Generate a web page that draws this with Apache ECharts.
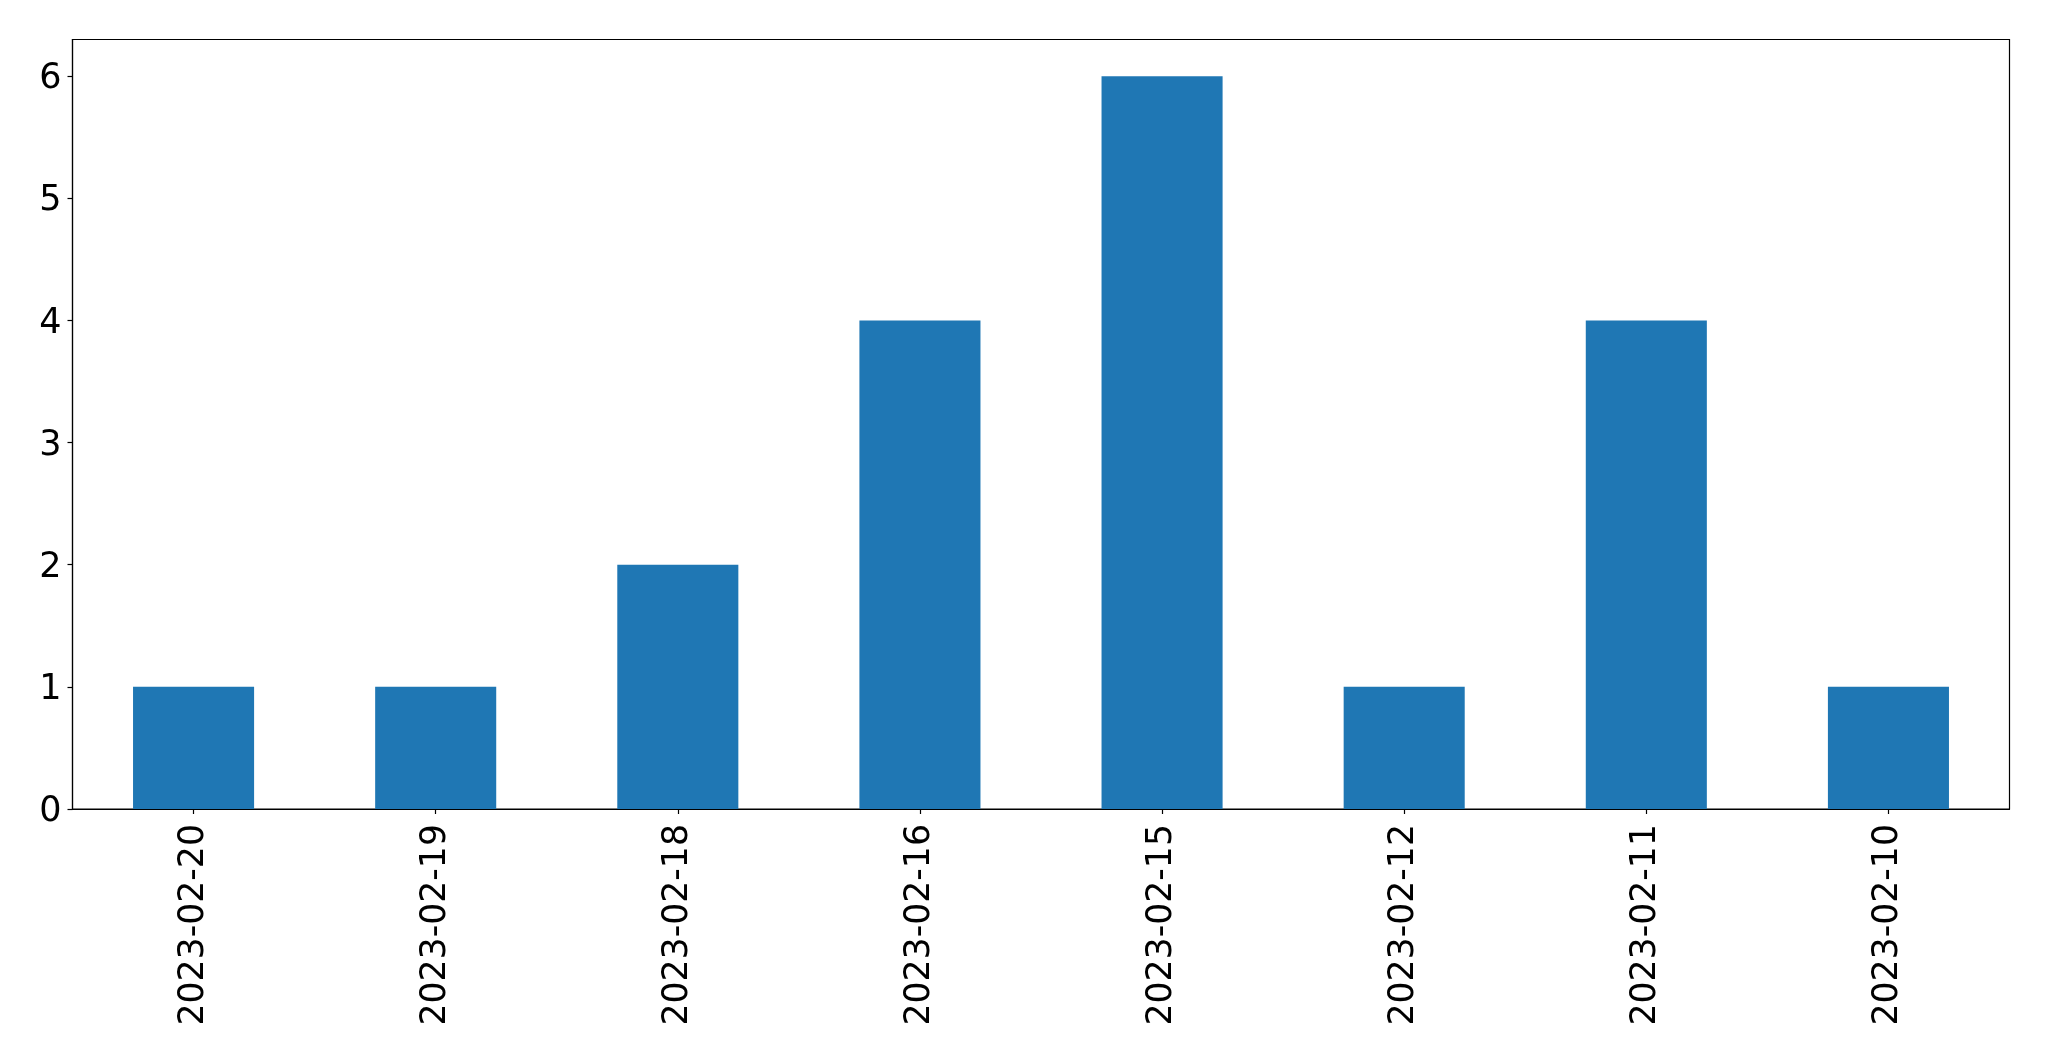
<!DOCTYPE html>
<html>
<head>
<meta charset="utf-8">
<script src="https://cdn.jsdelivr.net/npm/echarts@6/dist/echarts.min.js"></script>
<style>html,body{margin:0;padding:0;background:#fff}#c{width:2049px;height:1061px}</style>
</head>
<body>
<div id="c"></div>
<script>
const categories = ['2023-02-20','2023-02-19','2023-02-18','2023-02-16','2023-02-15','2023-02-12','2023-02-11','2023-02-10'];
const values = [1, 1, 2, 4, 6, 1, 4, 1];
const yTicks = [0, 1, 2, 3, 4, 5, 6];

const chart = echarts.init(document.getElementById('c'), null, {renderer: 'canvas'});
const font = 'DejaVu Sans';
chart.setOption({
  animation: false,
  grid: {left: 72.5, right: 39.5, top: 39.5, bottom: 252, show: true, borderColor: '#000', borderWidth: 1.2, backgroundColor: 'transparent'},
  xAxis: {
    type: 'category',
    data: categories,
    axisLine: {show: true, lineStyle: {color: '#000', width: 1.2}},
    axisTick: {show: true, alignWithLabel: true, length: 5, lineStyle: {color: '#000', width: 1.2}},
    axisLabel: {rotate: 90, margin: 15, fontFamily: font, fontSize: 34.7, color: '#000', interval: 0},
    splitLine: {show: false}
  },
  yAxis: {
    type: 'value',
    min: 0,
    max: 6.3,
    interval: 1,
    axisLine: {show: true, lineStyle: {color: '#000', width: 1.2}},
    axisTick: {show: true, length: 5, lineStyle: {color: '#000', width: 1.2}, customValues: yTicks},
    axisLabel: {
      margin: 11, fontFamily: font, fontSize: 35, color: '#000', customValues: yTicks,
      formatter: '{a|{value}}',
      rich: {a: {fontFamily: font, fontSize: 35, color: '#000', padding: [6, 0, 0, 0]}}
    },
    splitLine: {show: false}
  },
  series: [{
    type: 'bar',
    data: values,
    barWidth: '50%',
    itemStyle: {color: '#1f77b4'}
  }]
});
</script>
</body>
</html>
